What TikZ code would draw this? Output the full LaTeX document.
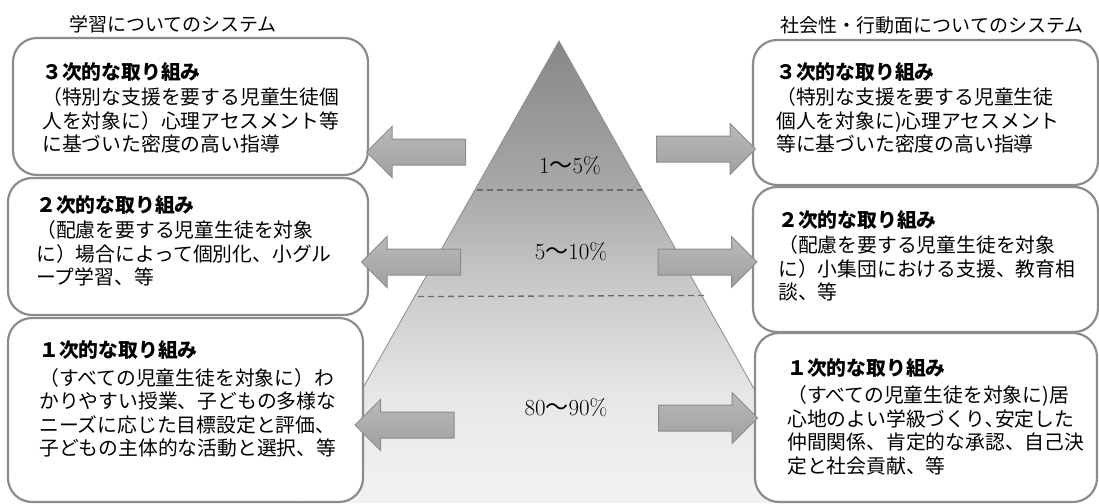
\documentclass[tikz,border=0pt]{standalone}
\usepackage{fontspec}
\newfontfamily\cjk{Noto Sans CJK JP}
\usetikzlibrary{shapes.arrows}
\definecolor{boxc}{RGB}{140,140,140}
\definecolor{arrc}{RGB}{140,140,140}
\definecolor{arrtop}{RGB}{185,185,185}
\definecolor{arrbot}{RGB}{160,160,160}
\definecolor{s0}{gray}{0.53}
\definecolor{s1}{gray}{0.66}
\definecolor{s2}{gray}{0.80}
\definecolor{s3}{gray}{0.91}
\definecolor{s4}{gray}{0.95}
\pgfdeclareverticalshading{pyr}{100bp}{color(0bp)=(s4); color(25bp)=(s4); color(36bp)=(s3); color(47.5bp)=(s2); color(59bp)=(s1); color(75bp)=(s0); color(100bp)=(s0)}
\tikzset{
  box/.style={draw=boxc, line width=2.2pt, fill=white, rounded corners=24pt, rectangle, inner sep=0pt},
  body/.style={anchor=base west, inner sep=0pt, text width=340pt, align=left,
    font=\fontsize{19.8pt}{23.5pt}\selectfont\cjk},
  title/.style={inner sep=0pt, font=\fontsize{19pt}{22pt}\selectfont\cjk},
  pct/.style={inner sep=0pt, font=\fontsize{23pt}{26pt}\selectfont},
  barrow/.style={single arrow, draw=arrc, line width=1pt, top color=arrtop, bottom color=arrbot,
    inner xsep=0pt, inner ysep=12.5pt, single arrow head extend=12.5pt, minimum height=99pt},
  dashline/.style={draw=gray!85!black, line width=1.3pt, dash pattern=on 6pt off 4pt},
  pyrline/.style={draw=gray!90, line width=0.8pt}
}
\newcommand{\hd}[1]{{\bfseries #1}}
\begin{document}
\begin{tikzpicture}[x=1pt,y=-1pt]
\useasboundingbox (0,0) rectangle (1099,503);
% pyramid
\coordinate (apex) at (559,41);
\coordinate (bl) at (298,503);
\coordinate (br) at (818,503);
\path[shading=pyr] (apex) -- (br) -- (bl) -- cycle;
\draw[pyrline] (bl) -- (apex) -- (br);
% dashed separators
\coordinate (d1a) at (477,190);
\coordinate (d1b) at (642,190);
\coordinate (d2a) at (418,296.5);
\coordinate (d2b) at (705,295.5);
\draw[dashline] (d1a) -- (d1b);
\draw[dashline] (d2a) -- (d2b);
% percentages
\node[pct] (p1) at (570,166) {1{\cjk ～}5\%};
\node[pct] (p2) at (571,252) {5{\cjk ～}10\%};
\node[pct] (p3) at (566,408) {80{\cjk ～}90\%};
% titles
\node[title] (tl) at (173,24) {学習についてのシステム};
\node[title] (tr) at (932,25) {社会性・行動面についてのシステム};
% boxes
\node[box, minimum width=355pt, minimum height=137pt] (LT) at (190.5,106.5) {};
\node[box, minimum width=360pt, minimum height=137pt] (LM) at (188,246.5) {};
\node[box, minimum width=355pt, minimum height=184pt] (LB) at (185.5,410) {};
\node[box, minimum width=345pt, minimum height=145pt] (RT) at (925.5,112.5) {};
\node[box, minimum width=345pt, minimum height=145pt] (RM) at (925.5,259.5) {};
\node[box, minimum width=342pt, minimum height=169pt] (RB) at (926,417.5) {};
% arrows
\node[barrow, shape border rotate=180] (aL1) at (422.5,152) {};
\node[barrow, shape border rotate=180] (aL2) at (417.5,262) {};
\node[barrow, shape border rotate=180] (aL3) at (411,425) {};
\node[barrow] (aR1) at (699.5,149) {};
\node[barrow] (aR2) at (701,262) {};
\node[barrow] (aR3) at (701.5,418) {};
% texts
\node[body] (LTt) at (42,79.5) {\hd{３次的な取り組み}\\[1.5pt]
（特別な支援を要する児童生徒個\\
人を対象に）心理アセスメント等\\
に基づいた密度の高い指導};
\node[body] (LMt) at (36,212.5) {\hd{２次的な取り組み}\\[1.5pt]
（配慮を要する児童生徒を対象\\
に）場合によって個別化、小グル\\
ープ学習、等};
\node[body] (LBt) at (39,357.5) {\hd{１次的な取り組み}\\[4pt]
（すべての児童生徒を対象に）わ\\
かりやすい授業、子どもの多様な\\
ニーズに応じた目標設定と評価、\\
子どもの主体的な活動と選択、等};
\node[body] (RTt) at (776,79.5) {\hd{３次的な取り組み}\\[1.5pt]
（特別な支援を要する児童生徒\\
個人を対象に)心理アセスメント\\
等に基づいた密度の高い指導};
\node[body] (RMt) at (778,227.5) {\hd{２次的な取り組み}\\[1.5pt]
（配慮を要する児童生徒を対象\\
に）小集団における支援、教育相\\
談、等};
\node[body] (RBt) at (787,375.5) {\hd{１次的な取り組み}\\[3.5pt]
（すべての児童生徒を対象に)居\\
心地のよい学級づくり､安定した\\
仲間関係、肯定的な承認、自己決\\
定と社会貢献、等};
\end{tikzpicture}
\end{document}
